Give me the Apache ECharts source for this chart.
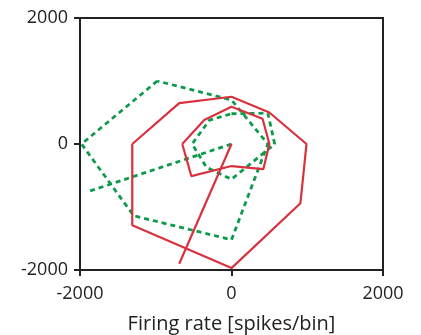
<!DOCTYPE html>
<html>
<head>
<meta charset="utf-8">
<script src="https://cdn.jsdelivr.net/npm/echarts@6/dist/echarts.min.js"></script>
<style>
  html, body { margin: 0; padding: 0; background: #fff; }
  #chart { width: 421px; height: 335px; }
</style>
</head>
<body>
<div id="chart"></div>
<script>
// Axis range and tick labels
const axisMin = -2000;
const axisMax = 2000;
const tickStep = 2000;

// Red (solid) trajectory: outer loop, inner loop and a vector from the origin
const redOuter = [[-1310, 0], [-690, 650], [0, 750], [500, 500], [990, 0], [910, -940], [0, -1970], [-1310, -1290]];
const redInner = [[-650, 0], [-360, 380], [0, 590], [410, 400], [500, 0], [420, -400], [0, -350], [-530, -510]];
const redVector = [[0, 0], [-690, -1900]];

// Green (dotted) trajectory: outer loop, inner loop and a vector from the origin
const greenOuter = [[-980, 1000], [-1980, 0], [-1290, -1140], [0, -1520], [480, 0], [0, 700]];
const greenInner = [[0, 480], [480, 490], [570, 0], [0, -560], [-330, -370], [-520, 0], [-290, 380]];
const greenVector = [[0, 0], [-1880, -750]];

const closed = pts => pts.concat([pts[0]]);

const redStyle = { color: '#d8323f', width: 2.2, type: 'solid' };
const greenStyle = { color: '#0f9a4b', width: 2.8, type: [5, 4], cap: 'butt' };

function lineSeries(data, style) {
  return {
    type: 'line',
    data: data,
    showSymbol: false,
    symbol: 'none',
    smooth: false,
    clip: false,
    lineStyle: style,
    emphasis: { disabled: true },
    animation: false
  };
}

const chart = echarts.init(document.getElementById('chart'), null, { renderer: 'canvas' });

const fontFamily = '"Open Sans", "Liberation Sans", sans-serif';
const plain = v => String(v);

chart.setOption({
  backgroundColor: '#fff',
  animation: false,
  grid: {
    left: 80, right: 38, top: 18, bottom: 65,
    outerBoundsMode: 'none',
    containLabel: false,
    show: true, borderColor: '#222', borderWidth: 2, backgroundColor: 'transparent'
  },
  xAxis: {
    type: 'value',
    min: axisMin, max: axisMax, interval: tickStep,
    name: 'Firing rate [spikes/bin]',
    nameLocation: 'middle',
    nameGap: 44,
    nameTextStyle: { fontFamily: fontFamily, fontSize: 20, color: '#222' },
    axisLine: { show: true, onZero: false, lineStyle: { color: '#222', width: 2 } },
    axisTick: { show: true, inside: false, length: 6, lineStyle: { color: '#222', width: 2 } },
    axisLabel: { margin: 15, formatter: plain, fontFamily: fontFamily, fontSize: 18, color: '#222' },
    splitLine: { show: false }
  },
  yAxis: {
    type: 'value',
    min: axisMin, max: axisMax, interval: tickStep,
    axisLine: { show: true, onZero: false, lineStyle: { color: '#222', width: 2 } },
    axisTick: { show: true, inside: false, length: 6, lineStyle: { color: '#222', width: 2 } },
    axisLabel: { margin: 12, formatter: plain, fontFamily: fontFamily, fontSize: 18, color: '#222' },
    splitLine: { show: false }
  },
  series: [
    lineSeries(closed(greenOuter), greenStyle),
    lineSeries(closed(greenInner), greenStyle),
    lineSeries(greenVector, greenStyle),
    lineSeries(closed(redOuter), redStyle),
    lineSeries(closed(redInner), redStyle),
    lineSeries(redVector, redStyle)
  ]
});
</script>
</body>
</html>
